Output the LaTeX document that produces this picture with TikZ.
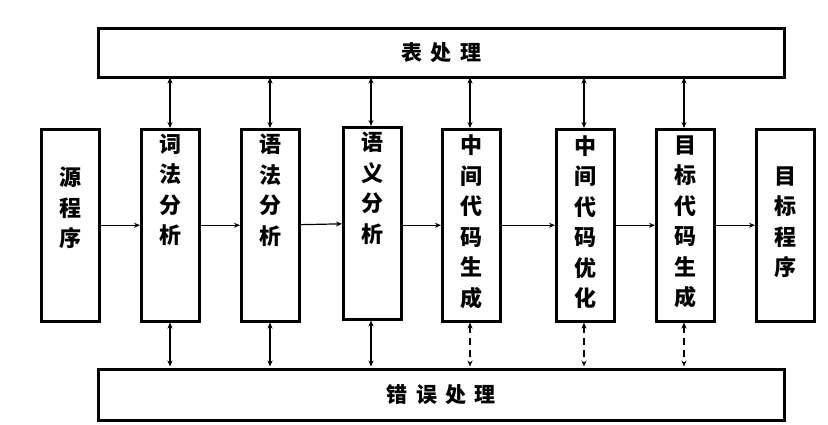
\documentclass[tikz,border=0pt]{standalone}
\usepackage{fontspec}
\newfontfamily\cjk{Noto Sans CJK SC}
\usetikzlibrary{arrows.meta}
\begin{document}
\begin{tikzpicture}[x=1pt,y=-1pt,
 box/.style={draw,line width=2.5pt,anchor=north west,inner sep=0pt,font=\cjk\bfseries\fontsize{21}{24}\selectfont,align=center},
 lbl/.style={font=\cjk\bfseries\fontsize{22}{30.5}\selectfont,align=center},
 arr/.style={line width=1.2pt,-{Stealth[length=6pt,width=5pt]}},
 dbl/.style={line width=1.2pt,{Stealth[length=6pt,width=5pt]}-{Stealth[length=6pt,width=5pt]}},
 dsh/.style={dbl,dash pattern=on 7pt off 5pt}]
\useasboundingbox (0,0) rectangle (828,424);
\node[box,minimum width=686pt,minimum height=49pt] (tab) at (97,27) {表\hspace{0.4em}处\hspace{0.4em}理};
\node[box,minimum width=686pt,minimum height=51pt] (err) at (97,368) {错\hspace{0.4em}误\hspace{0.4em}处\hspace{0.4em}理};
\foreach \n/\x/\y in {src/40/128, lex/140/128, syn/240/128, sem/342/126, ic/441/128, opt/555/128, tc/655/128, dst/755/128}{
  \node[box,minimum width=58pt,minimum height=192pt] (\n) at (\x,\y) {};
}
\foreach \n/\t/\yy in {src/{源\\程\\序}/208, lex/{词\\法\\分\\析}/190, syn/{语\\法\\分\\析}/190, sem/{语\\义\\分\\析}/188, ic/{中\\间\\代\\码\\生\\成}/222, opt/{中\\间\\代\\码\\优\\化}/222, tc/{目\\标\\代\\码\\生\\成}/222, dst/{目\\标\\程\\序}/222}{
  \node[lbl] at (\n.center |- 0,\yy) {\t};
}
\draw[arr] (src) -- (lex);
\draw[arr] (lex) -- (syn);
\draw[arr] (syn) -- (sem);
\draw[arr] (sem.east |- ic) -- (ic);
\draw[arr] (ic) -- (opt);
\draw[arr] (opt) -- (tc);
\draw[arr] (tc) -- (dst);
\foreach \n/\x in {lex/170,syn/270,sem/371,ic/470,opt/584,tc/684}{
  \draw[dbl] (\x,77.5) -- (\n.north -| \x,0);
}
\foreach \n/\x in {lex/170,syn/270,sem/371}{\draw[dbl] (\n.south -| \x,0) -- (\x,366.5);}
\foreach \n/\x in {ic/470,opt/584,tc/684}{\draw[dsh] (\n.south -| \x,0) -- (\x,366.5);}
\end{tikzpicture}
\end{document}
